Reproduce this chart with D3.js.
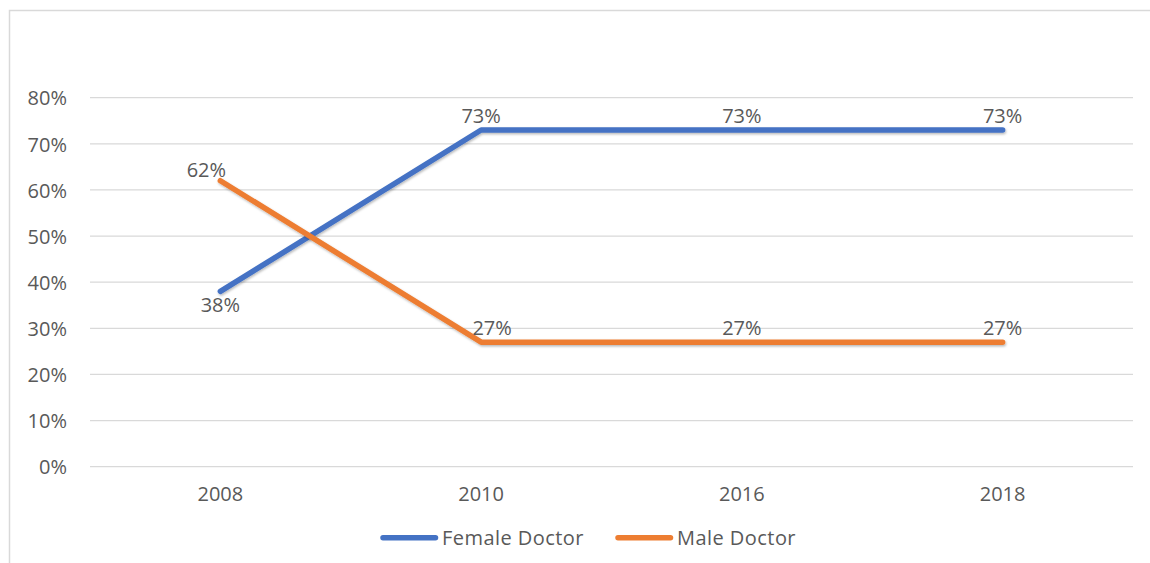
<!DOCTYPE html>
<html>
<head>
<meta charset="utf-8">
<script src="https://cdn.jsdelivr.net/npm/d3@7"></script>
<style>
  html, body { margin: 0; padding: 0; background: #fff; }
  svg { display: block; }
  text { font-family: "Open Sans", "Noto Sans", sans-serif; fill: #595959; }
</style>
</head>
<body>
<svg id="chart" width="1150" height="563"></svg>
<script>
// Share of doctors by gender, per survey year
const years = ["2008", "2010", "2016", "2018"];
const femaleDoctor = [0.38, 0.73, 0.73, 0.73];
const maleDoctor = [0.62, 0.27, 0.27, 0.27];
const yTicks = [0, 0.1, 0.2, 0.3, 0.4, 0.5, 0.6, 0.7, 0.8];
const seriesNames = ["Female Doctor", "Male Doctor"];
const seriesColors = ["#4472C4", "#ED7D31"];

const svg = d3.select("#chart");
const W = 1150, H = 563;
const FONT = 20;

// chart frame (right and bottom edges run past the canvas)
svg.append("rect")
  .attr("x", 9.5).attr("y", 10.5)
  .attr("width", W + 10).attr("height", H + 10)
  .attr("fill", "none").attr("stroke", "#d9d9d9").attr("stroke-width", 1.5);

const plot = { left: 90, right: 1133, top: 97.7, bottom: 466.7 };

const x = d3.scaleBand().domain(years).range([plot.left, plot.right]);
const y = d3.scaleLinear().domain([0, 0.8]).range([plot.bottom, plot.top]);

const defs = svg.append("defs");
const shadow = defs.append("filter").attr("id", "lineShadow")
  .attr("x", "-5%").attr("y", "-20%").attr("width", "110%").attr("height", "140%");
shadow.append("feDropShadow")
  .attr("dx", 0.8).attr("dy", 1.5).attr("stdDeviation", 1.2)
  .attr("flood-color", "#000").attr("flood-opacity", 0.28);

// horizontal gridlines
svg.append("g")
  .selectAll("line").data(yTicks).join("line")
  .attr("x1", plot.left).attr("x2", plot.right)
  .attr("y1", d => y(d)).attr("y2", d => y(d))
  .attr("stroke", "#d9d9d9").attr("stroke-width", 1.2);

// y axis labels
const yAxis = d3.axisLeft(y).tickValues(yTicks).tickFormat(d3.format(".0%")).tickSize(0).tickPadding(0);
const gy = svg.append("g").attr("transform", `translate(${plot.left - 23},0)`).call(yAxis);
gy.select(".domain").remove();
gy.selectAll("text").attr("font-size", FONT).attr("dy", "0.36em")
  .style("font-family", '"Open Sans", "Noto Sans", sans-serif').attr("fill", "#595959");

// x axis labels
const xAxis = d3.axisBottom(x).tickSize(0).tickPadding(0);
const gx = svg.append("g").attr("transform", `translate(0,${plot.bottom})`).call(xAxis);
gx.select(".domain").remove();
gx.selectAll("text").attr("font-size", FONT).attr("y", 34).attr("dy", 0)
  .style("font-family", '"Open Sans", "Noto Sans", sans-serif').attr("fill", "#595959");

const cx = d => x(d) + x.bandwidth() / 2;
const line = d3.line().x((d, i) => cx(years[i])).y(d => y(d));

const series = [femaleDoctor, maleDoctor];
series.forEach((vals, s) => {
  svg.append("path")
    .datum(vals)
    .attr("d", line)
    .attr("fill", "none")
    .attr("stroke", seriesColors[s])
    .attr("stroke-width", 5.5)
    .attr("stroke-linecap", "round")
    .attr("stroke-linejoin", "round")
    .attr("filter", "url(#lineShadow)");
});

// value labels: female 2008 sits below its point; small sideways nudges keep
// the labels around the 2008-2010 crossing clear of the lines
const fmt = d3.format(".0%");
const nudgeX = (s, i) => (s === 1 && i === 0 ? -14 : 0) + (s === 1 && i === 1 ? 11 : 0);
const nudgeY = (s, i) => (s === 0 && i === 0) ? 21 : (s === 1 && i === 0 ? -4 : -7);
series.forEach((vals, s) => {
  svg.append("g").selectAll("text").data(vals).join("text")
    .attr("x", (d, i) => cx(years[i]) + nudgeX(s, i))
    .attr("y", (d, i) => y(d) + nudgeY(s, i))
    .attr("text-anchor", "middle")
    .attr("font-size", FONT)
    .text(d => fmt(d));
});

// legend
const legend = svg.append("g").attr("transform", "translate(0,537.7)");
const legendX = [383, 618];
seriesNames.forEach((name, i) => {
  const g = legend.append("g").attr("transform", `translate(${legendX[i]},0)`);
  g.append("line").attr("x1", 0).attr("x2", 52.5).attr("y1", 0).attr("y2", 0)
    .attr("stroke", seriesColors[i]).attr("stroke-width", 5.5).attr("stroke-linecap", "round");
  g.append("text").attr("x", 59).attr("y", 0).attr("dy", "0.36em")
    .attr("font-size", FONT).attr("letter-spacing", 0.45).text(name);
});
</script>
</body>
</html>
